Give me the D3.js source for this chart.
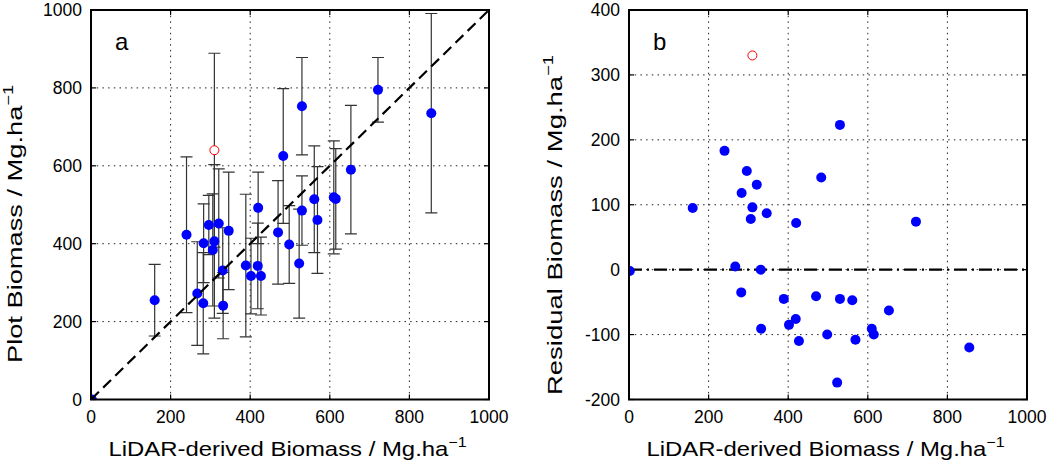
<!DOCTYPE html>
<html>
<head>
<meta charset="utf-8">
<script src="https://cdn.jsdelivr.net/npm/d3@7"></script>
<style>
  html, body { margin: 0; padding: 0; background: #fff; }
  svg { display: block; font-family: "Liberation Sans", Arial, sans-serif; }
</style>
</head>
<body>
<div id="chart"></div>
<script>
// LiDAR-derived biomass (x), plot biomass (panel a), residual (panel b), error half-width
const lidar    = [2, 160, 240, 283, 282, 267, 296, 306, 310, 321, 331, 332, 346, 389, 402, 419, 420, 427, 470, 483, 498, 523, 530, 530, 561, 569, 610, 615, 653, 721, 855];
const plotMass = [0, 255, 423, 401, 247, 272, 448, 384, 406, 452, 331, 241, 433, 344, 317, 343, 492, 317, 429, 625, 398, 349, 753, 485, 514, 461, 519, 515, 590, 795, 735];
const residual = [-2, 95, 183, 118, -35, 5, 152, 78, 96, 131, 0, -91, 87, -45, -85, -76, 72, -110, -41, 142, -100, -174, 223, -45, -47, -108, -91, -100, -63, 74, -120];
const errHalf  = [0, 92, 200, 101, 130, 133, 76, 144, 197, 140, 110, 85, 151, 183, 97, 110, 92, 100, 133, 173, 100, 140, 125, 89, 137, 137, 145, 129, 165, 83, 256];

// excluded plot (red open circle)
const outlier = { lidar: 310, plot: 640, residual: 330, err: 249 };

const xTicks = [0, 200, 400, 600, 800, 1000];
const yTicksA = [0, 200, 400, 600, 800, 1000];
const yTicksB = [-200, -100, 0, 100, 200, 300, 400];

const width = 1049;
const height = 466;

const svg = d3.select('#chart')
    .append('svg')
    .attr('width', width)
    .attr('height', height);

const plotTop = 10, plotBottom = 399.5;

function drawPanel(opts) {
    const x = d3.scaleLinear().domain([0, 1000]).range([opts.left, opts.right]);
    const y = d3.scaleLinear().domain(opts.yDomain).range([plotBottom, plotTop]);
    const g = svg.append('g');

    const clipId = 'clip-' + opts.name;
    svg.append('clipPath').attr('id', clipId)
        .append('rect')
        .attr('x', opts.left).attr('y', plotTop)
        .attr('width', opts.right - opts.left).attr('height', plotBottom - plotTop);

    // dotted grid
    g.selectAll('.vgrid')
        .data(xTicks.slice(1, -1))
        .enter().append('line')
        .attr('x1', d => x(d)).attr('x2', d => x(d))
        .attr('y1', plotTop).attr('y2', plotBottom)
        .attr('stroke', '#222').attr('stroke-width', 1)
        .attr('stroke-dasharray', '1.5,4.2');
    g.selectAll('.hgrid')
        .data(opts.yTicks.slice(1, -1))
        .enter().append('line')
        .attr('y1', d => y(d)).attr('y2', d => y(d))
        .attr('x1', opts.left).attr('x2', opts.right)
        .attr('stroke', '#222').attr('stroke-width', 1)
        .attr('stroke-dasharray', '1.5,4.2');

    // ticks inside on all four sides
    const tl = 5;
    xTicks.forEach(t => {
        g.append('line').attr('x1', x(t)).attr('x2', x(t)).attr('y1', plotBottom).attr('y2', plotBottom - tl)
            .attr('stroke', '#000').attr('stroke-width', 1.2);
        g.append('line').attr('x1', x(t)).attr('x2', x(t)).attr('y1', plotTop).attr('y2', plotTop + tl)
            .attr('stroke', '#000').attr('stroke-width', 1.2);
    });
    opts.yTicks.forEach(t => {
        g.append('line').attr('y1', y(t)).attr('y2', y(t)).attr('x1', opts.left).attr('x2', opts.left + tl)
            .attr('stroke', '#000').attr('stroke-width', 1.2);
        g.append('line').attr('y1', y(t)).attr('y2', y(t)).attr('x1', opts.right).attr('x2', opts.right - tl)
            .attr('stroke', '#000').attr('stroke-width', 1.2);
    });

    // tick labels
    g.selectAll('.xlab')
        .data(xTicks)
        .enter().append('text')
        .attr('x', d => x(d)).attr('y', 423)
        .attr('text-anchor', 'middle')
        .attr('font-size', 17.5)
        .text(d => d);
    g.selectAll('.ylab')
        .data(opts.yTicks)
        .enter().append('text')
        .attr('x', opts.left - 9).attr('y', d => y(d))
        .attr('dy', '0.36em')
        .attr('text-anchor', 'end')
        .attr('font-size', 17.5)
        .text(d => d < 0 ? '-' + Math.abs(d) : d);

    // axis titles
    const xt = g.append('text')
        .attr('x', (opts.left + opts.right) / 2 - 2.5).attr('y', 456)
        .attr('text-anchor', 'middle')
        .attr('font-size', 21)
        .attr('textLength', 358).attr('lengthAdjust', 'spacingAndGlyphs');
    xt.append('tspan').text('LiDAR-derived Biomass / Mg.ha');
    xt.append('tspan').attr('dy', -9).attr('font-size', 14).text('\u22121');

    const yt = g.append('text')
        .attr('transform', `translate(${opts.yTitleX},${opts.yTitleY}) rotate(-90)`)
        .attr('text-anchor', 'middle')
        .attr('font-size', 21)
        .attr('textLength', opts.yTitleLen).attr('lengthAdjust', 'spacingAndGlyphs');
    yt.append('tspan').text(opts.yTitle);
    yt.append('tspan').attr('dy', -9).attr('font-size', 14).text('\u22121');

    // panel letter
    g.append('text')
        .attr('x', opts.left + opts.letterDx).attr('y', 50)
        .attr('font-size', 24)
        .text(opts.name);

    const plotArea = svg.append('g').attr('clip-path', `url(#${clipId})`);
    opts.drawMarks(plotArea, x, y);

    // box
    svg.append('rect')
        .attr('x', opts.left).attr('y', plotTop)
        .attr('width', opts.right - opts.left).attr('height', plotBottom - plotTop)
        .attr('fill', 'none').attr('stroke', '#000').attr('stroke-width', 2);
}

// panel a: plot vs LiDAR with error bars and 1:1 line
drawPanel({
    name: 'a', left: 91, right: 489, yDomain: [0, 1000], yTicks: yTicksA,
    yTitle: 'Plot Biomass /  Mg.ha', yTitleX: 22, yTitleY: 224, yTitleLen: 278,
    letterDx: 24,
    drawMarks: (area, x, y) => {
        const bars = lidar.map((d, i) => ({ x: d, y: plotMass[i], e: errHalf[i] }))
            .filter(d => d.e > 0);
        bars.push({ x: outlier.lidar, y: outlier.plot, e: outlier.err });
        const cap = 6;
        bars.forEach(d => {
            const gx = x(d.x);
            area.append('line').attr('x1', gx).attr('x2', gx)
                .attr('y1', y(d.y - d.e)).attr('y2', y(d.y + d.e))
                .attr('stroke', '#333').attr('stroke-width', 1.2);
            [d.y - d.e, d.y + d.e].forEach(v => {
                area.append('line').attr('x1', gx - cap).attr('x2', gx + cap)
                    .attr('y1', y(v)).attr('y2', y(v))
                    .attr('stroke', '#333').attr('stroke-width', 1.2);
            });
        });

        area.selectAll('.pt')
            .data(lidar)
            .enter().append('circle')
            .attr('cx', d => x(d))
            .attr('cy', (d, i) => y(plotMass[i]))
            .attr('r', 5)
            .attr('fill', '#0000ff');

        area.append('circle')
            .attr('cx', x(outlier.lidar)).attr('cy', y(outlier.plot))
            .attr('r', 4.5)
            .attr('fill', '#fff').attr('stroke', '#ff0000').attr('stroke-width', 1);

        area.append('line')
            .attr('x1', x(0)).attr('y1', y(0))
            .attr('x2', x(1000)).attr('y2', y(1000))
            .attr('stroke', '#000').attr('stroke-width', 2.2)
            .attr('stroke-dasharray', '11,6');
    }
});

// panel b: residuals
drawPanel({
    name: 'b', left: 629, right: 1027, yDomain: [-200, 400], yTicks: yTicksB,
    yTitle: 'Residual Biomass /  Mg.ha', yTitleX: 562, yTitleY: 225, yTitleLen: 340,
    letterDx: 24,
    drawMarks: (area, x, y) => {
        area.append('line')
            .attr('x1', x(0)).attr('x2', x(1000))
            .attr('y1', y(0)).attr('y2', y(0))
            .attr('stroke', '#000').attr('stroke-width', 2.2)
            .attr('stroke-dasharray', '13,5,2,5');

        area.selectAll('.pt')
            .data(lidar)
            .enter().append('circle')
            .attr('cx', d => x(d))
            .attr('cy', (d, i) => y(residual[i]))
            .attr('r', 5)
            .attr('fill', '#0000ff');

        area.append('circle')
            .attr('cx', x(outlier.lidar)).attr('cy', y(outlier.residual))
            .attr('r', 4.5)
            .attr('fill', '#fff').attr('stroke', '#ff0000').attr('stroke-width', 1);
    }
});
</script>
</body>
</html>
